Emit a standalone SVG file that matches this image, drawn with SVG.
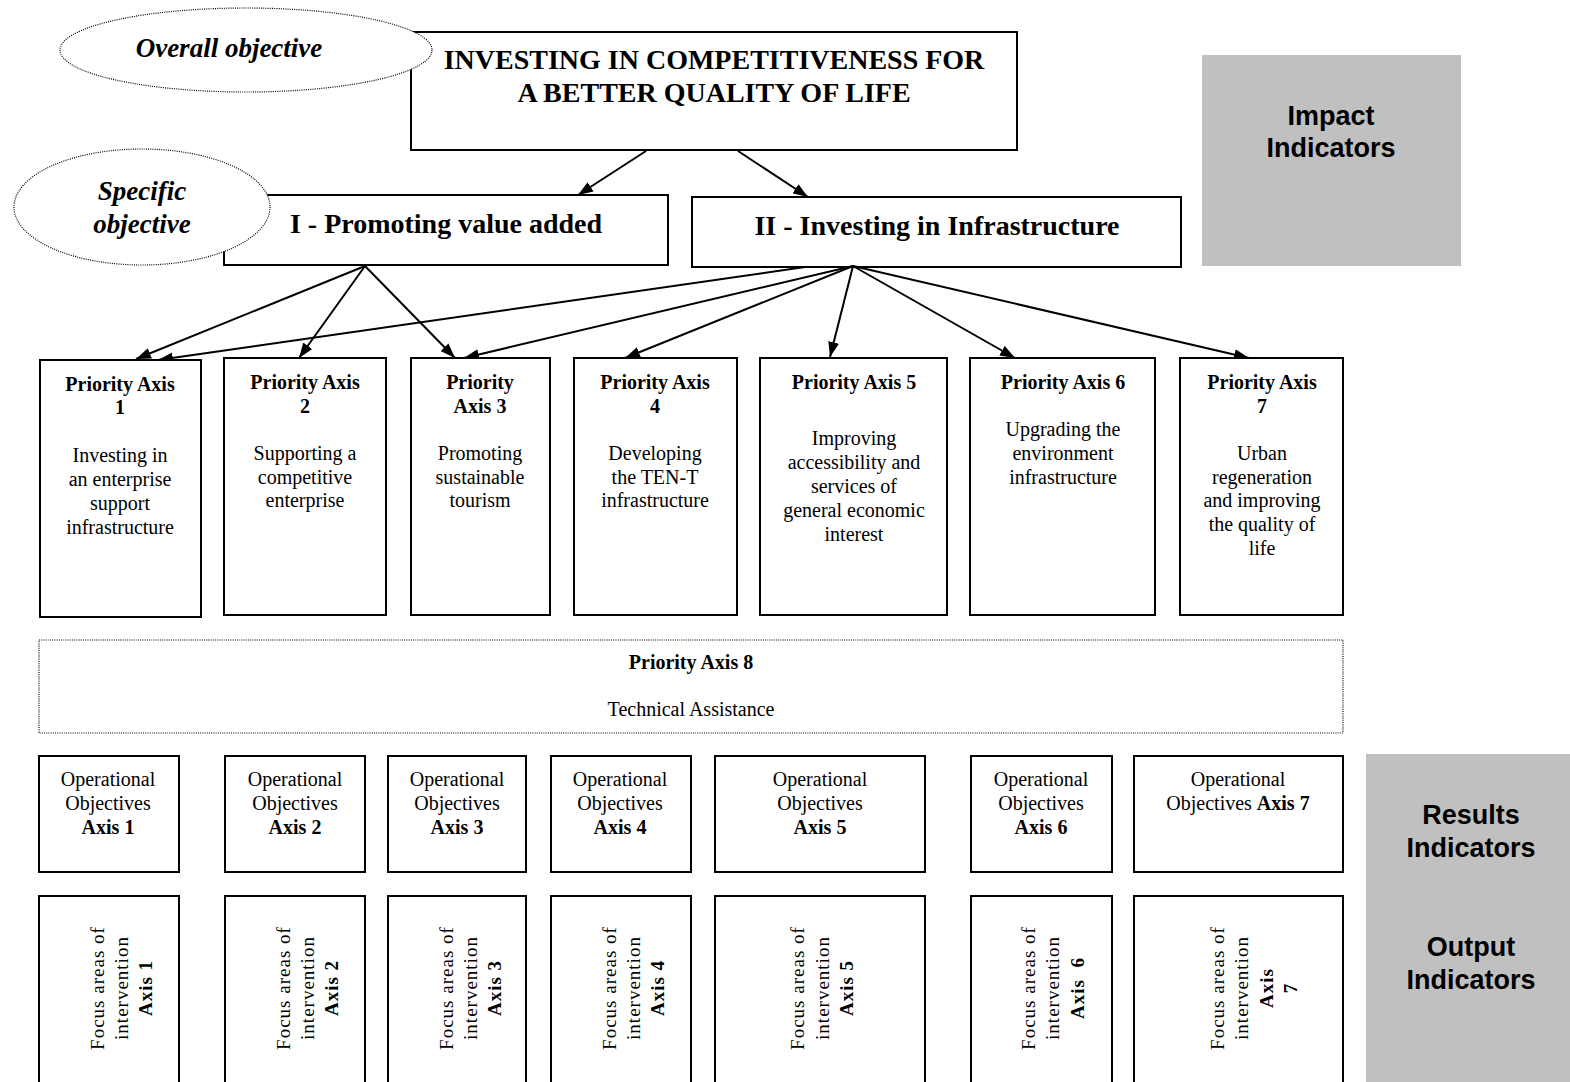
<svg xmlns="http://www.w3.org/2000/svg" width="1570" height="1082" viewBox="0 0 1570 1082">
<style>
.box{fill:#fff;stroke:#000;stroke-width:2}
.dot{fill:none;stroke:#000;stroke-width:1.2;stroke-dasharray:1 1.2}
.grey{fill:#c0c0c0;stroke:none}
.t{font-family:"Liberation Serif","Times New Roman",serif;font-size:20px;fill:#000;text-anchor:middle}
.b{font-weight:bold}
.big{font-family:"Liberation Serif","Times New Roman",serif;font-size:28px;font-weight:bold;fill:#000;text-anchor:middle}
.ell{font-family:"Liberation Serif","Times New Roman",serif;font-size:27px;font-weight:bold;font-style:italic;fill:#000;text-anchor:middle}
.ind{font-family:"Liberation Sans",Arial,sans-serif;font-size:27px;font-weight:bold;fill:#000;text-anchor:middle}
.rot{font-family:"Liberation Serif","Times New Roman",serif;font-size:19px;letter-spacing:1px;fill:#000;text-anchor:middle}
.conn line{stroke:#000;stroke-width:2;marker-end:url(#ah)}
</style>
<defs>
<marker id="ah" viewBox="0 0 15 11" markerWidth="15" markerHeight="11" refX="15" refY="5.5" orient="auto" markerUnits="userSpaceOnUse">
<path d="M0,0 L15,5.5 L0,11 z" fill="#000"/>
</marker>
</defs>
<rect width="1570" height="1082" fill="#fff"/>

<g id="impact-indicators">
<rect class="grey" x="1202" y="55" width="259" height="211"/>
<text class="ind" x="1331" y="125">Impact</text>
<text class="ind" x="1331" y="157">Indicators</text>
</g>
<g id="results-output-indicators">
<rect class="grey" x="1366" y="754" width="204" height="328"/>
<text class="ind" x="1471" y="824">Results</text>
<text class="ind" x="1471" y="857">Indicators</text>
<text class="ind" x="1471" y="956">Output</text>
<text class="ind" x="1471" y="989">Indicators</text>
</g>

<g id="overall-goal">
<rect class="box" x="411" y="32" width="606" height="118"/>
<text class="big" x="714" y="69">INVESTING IN COMPETITIVENESS FOR</text>
<text class="big" x="714" y="102">A BETTER QUALITY OF LIFE</text>
</g>
<g id="overall-objective-label">
<ellipse class="dot" cx="246" cy="50" rx="186" ry="42" style="fill:#fff"/>
<text class="ell" x="229" y="57">Overall objective</text>
</g>

<g id="specific-I">
<rect class="box" x="224" y="195" width="444" height="70"/>
<text class="big" x="446" y="233">I - Promoting value added</text>
</g>
<g id="specific-II">
<rect class="box" x="692" y="197" width="489" height="70"/>
<text class="big" x="937" y="235">II - Investing in Infrastructure</text>
</g>
<g id="specific-objective-label">
<ellipse class="dot" cx="142" cy="207" rx="128" ry="58" style="fill:#fff"/>
<text class="ell" x="142" y="200">Specific</text>
<text class="ell" x="142" y="233">objective</text>
</g>

<g id="connectors" class="conn">
<line x1="646" y1="151" x2="578" y2="195"/>
<line x1="738" y1="151" x2="808" y2="197"/>
<line x1="365" y1="266" x2="136" y2="359"/>
<line x1="365" y1="266" x2="299" y2="358"/>
<line x1="365" y1="266" x2="455" y2="358"/>
<line x1="805" y1="267" x2="158" y2="360"/>
<line x1="853" y1="266" x2="464" y2="358"/>
<line x1="853" y1="266" x2="625" y2="358"/>
<line x1="853" y1="266" x2="830" y2="357"/>
<line x1="853" y1="266" x2="1015" y2="358"/>
<line x1="853" y1="266" x2="1249" y2="358"/>
</g>

<g id="pa1">
<rect class="box" x="40" y="360" width="161" height="257"/>
<text class="t b" x="120" y="391">Priority Axis</text>
<text class="t b" x="120" y="414">1</text>
<text class="t" x="120" y="462">Investing in</text>
<text class="t" x="120" y="486">an enterprise</text>
<text class="t" x="120" y="510">support</text>
<text class="t" x="120" y="534">infrastructure</text>
</g>
<g id="pa2">
<rect class="box" x="224" y="358" width="162" height="257"/>
<text class="t b" x="305" y="389">Priority Axis</text>
<text class="t b" x="305" y="413">2</text>
<text class="t" x="305" y="460">Supporting a</text>
<text class="t" x="305" y="484">competitive</text>
<text class="t" x="305" y="507">enterprise</text>
</g>
<g id="pa3">
<rect class="box" x="411" y="358" width="139" height="257"/>
<text class="t b" x="480" y="389">Priority</text>
<text class="t b" x="480" y="413">Axis 3</text>
<text class="t" x="480" y="460">Promoting</text>
<text class="t" x="480" y="484">sustainable</text>
<text class="t" x="480" y="507">tourism</text>
</g>
<g id="pa4">
<rect class="box" x="574" y="358" width="163" height="257"/>
<text class="t b" x="655" y="389">Priority Axis</text>
<text class="t b" x="655" y="413">4</text>
<text class="t" x="655" y="460">Developing</text>
<text class="t" x="655" y="484">the TEN-T</text>
<text class="t" x="655" y="507">infrastructure</text>
</g>
<g id="pa5">
<rect class="box" x="760" y="358" width="187" height="257"/>
<text class="t b" x="854" y="389">Priority Axis 5</text>
<text class="t" x="854" y="445">Improving</text>
<text class="t" x="854" y="469">accessibility and</text>
<text class="t" x="854" y="493">services of</text>
<text class="t" x="854" y="517">general economic</text>
<text class="t" x="854" y="541">interest</text>
</g>
<g id="pa6">
<rect class="box" x="970" y="358" width="185" height="257"/>
<text class="t b" x="1063" y="389">Priority Axis 6</text>
<text class="t" x="1063" y="436">Upgrading the</text>
<text class="t" x="1063" y="460">environment</text>
<text class="t" x="1063" y="484">infrastructure</text>
</g>
<g id="pa7">
<rect class="box" x="1180" y="358" width="163" height="257"/>
<text class="t b" x="1262" y="389">Priority Axis</text>
<text class="t b" x="1262" y="413">7</text>
<text class="t" x="1262" y="460">Urban</text>
<text class="t" x="1262" y="484">regeneration</text>
<text class="t" x="1262" y="507">and improving</text>
<text class="t" x="1262" y="531">the quality of</text>
<text class="t" x="1262" y="555">life</text>
</g>
<g id="pa8">
<rect class="dot" x="39" y="640" width="1304" height="93"/>
<text class="t b" x="691" y="669">Priority Axis 8</text>
<text class="t" x="691" y="716">Technical Assistance</text>
</g>

<g id="op1"><rect class="box" x="39" y="756" width="140" height="116"/>
<text class="t" x="108" y="786">Operational</text><text class="t" x="108" y="810">Objectives</text><text class="t b" x="108" y="834">Axis 1</text></g>
<g id="op2"><rect class="box" x="225" y="756" width="140" height="116"/>
<text class="t" x="295" y="786">Operational</text><text class="t" x="295" y="810">Objectives</text><text class="t b" x="295" y="834">Axis 2</text></g>
<g id="op3"><rect class="box" x="388" y="756" width="138" height="116"/>
<text class="t" x="457" y="786">Operational</text><text class="t" x="457" y="810">Objectives</text><text class="t b" x="457" y="834">Axis 3</text></g>
<g id="op4"><rect class="box" x="551" y="756" width="140" height="116"/>
<text class="t" x="620" y="786">Operational</text><text class="t" x="620" y="810">Objectives</text><text class="t b" x="620" y="834">Axis 4</text></g>
<g id="op5"><rect class="box" x="715" y="756" width="210" height="116"/>
<text class="t" x="820" y="786">Operational</text><text class="t" x="820" y="810">Objectives</text><text class="t b" x="820" y="834">Axis 5</text></g>
<g id="op6"><rect class="box" x="971" y="756" width="141" height="116"/>
<text class="t" x="1041" y="786">Operational</text><text class="t" x="1041" y="810">Objectives</text><text class="t b" x="1041" y="834">Axis 6</text></g>
<g id="op7"><rect class="box" x="1134" y="756" width="209" height="116"/>
<text class="t" x="1238" y="786">Operational</text><text class="t" x="1238" y="810">Objectives <tspan class="b">Axis 7</tspan></text></g>

<g id="fa1"><rect class="box" x="39" y="896" width="140" height="190"/>
<text class="rot" transform="translate(104 988) rotate(-90)">Focus areas of</text>
<text class="rot" transform="translate(128 988) rotate(-90)">intervention</text>
<text class="rot b" transform="translate(152 988) rotate(-90)">Axis 1</text></g>
<g id="fa2"><rect class="box" x="225" y="896" width="140" height="190"/>
<text class="rot" transform="translate(290 988) rotate(-90)">Focus areas of</text>
<text class="rot" transform="translate(314 988) rotate(-90)">intervention</text>
<text class="rot b" transform="translate(338 988) rotate(-90)">Axis 2</text></g>
<g id="fa3"><rect class="box" x="388" y="896" width="138" height="190"/>
<text class="rot" transform="translate(453 988) rotate(-90)">Focus areas of</text>
<text class="rot" transform="translate(477 988) rotate(-90)">intervention</text>
<text class="rot b" transform="translate(501 988) rotate(-90)">Axis 3</text></g>
<g id="fa4"><rect class="box" x="551" y="896" width="140" height="190"/>
<text class="rot" transform="translate(616 988) rotate(-90)">Focus areas of</text>
<text class="rot" transform="translate(640 988) rotate(-90)">intervention</text>
<text class="rot b" transform="translate(664 988) rotate(-90)">Axis 4</text></g>
<g id="fa5"><rect class="box" x="715" y="896" width="210" height="190"/>
<text class="rot" transform="translate(804 988) rotate(-90)">Focus areas of</text>
<text class="rot" transform="translate(829 988) rotate(-90)">intervention</text>
<text class="rot b" transform="translate(853 988) rotate(-90)">Axis 5</text></g>
<g id="fa6"><rect class="box" x="971" y="896" width="141" height="190"/>
<text class="rot" transform="translate(1035 988) rotate(-90)">Focus areas of</text>
<text class="rot" transform="translate(1059 988) rotate(-90)">intervention</text>
<text class="rot b" transform="translate(1084 988) rotate(-90)" xml:space="preserve">Axis  6</text></g>
<g id="fa7"><rect class="box" x="1134" y="896" width="209" height="190"/>
<text class="rot" transform="translate(1224 988) rotate(-90)">Focus areas of</text>
<text class="rot" transform="translate(1248 988) rotate(-90)">intervention</text>
<text class="rot b" transform="translate(1273 988) rotate(-90)">Axis</text>
<text class="rot b" transform="translate(1297 988) rotate(-90)">7</text></g>
</svg>
